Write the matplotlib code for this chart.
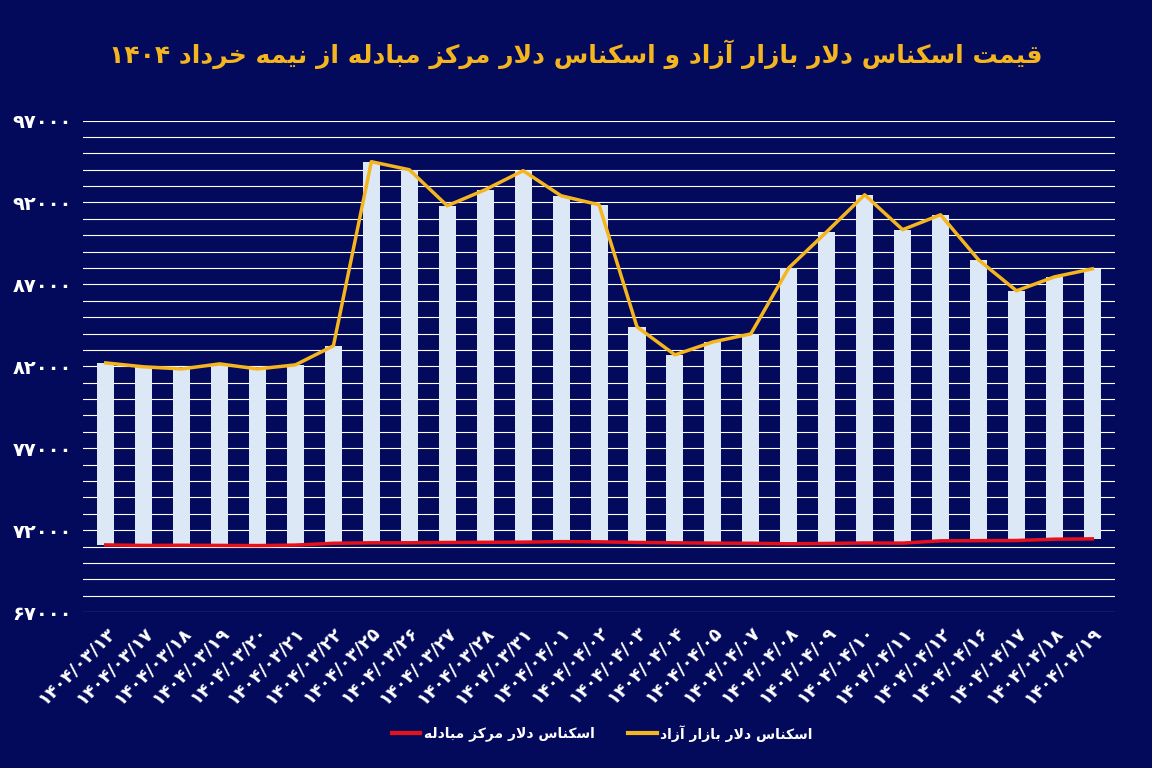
import matplotlib
matplotlib.use("Agg")
import matplotlib.pyplot as plt
import numpy as np

dates = ["۱۴۰۴/۰۳/۱۳","۱۴۰۴/۰۳/۱۷","۱۴۰۴/۰۳/۱۸","۱۴۰۴/۰۳/۱۹","۱۴۰۴/۰۳/۲۰","۱۴۰۴/۰۳/۲۱","۱۴۰۴/۰۳/۲۲",
         "۱۴۰۴/۰۳/۲۵","۱۴۰۴/۰۳/۲۶","۱۴۰۴/۰۳/۲۷","۱۴۰۴/۰۳/۲۸","۱۴۰۴/۰۳/۳۱","۱۴۰۴/۰۴/۰۱","۱۴۰۴/۰۴/۰۲",
         "۱۴۰۴/۰۴/۰۳","۱۴۰۴/۰۴/۰۴","۱۴۰۴/۰۴/۰۵","۱۴۰۴/۰۴/۰۷","۱۴۰۴/۰۴/۰۸","۱۴۰۴/۰۴/۰۹","۱۴۰۴/۰۴/۱۰",
         "۱۴۰۴/۰۴/۱۱","۱۴۰۴/۰۴/۱۲","۱۴۰۴/۰۴/۱۶","۱۴۰۴/۰۴/۱۷","۱۴۰۴/۰۴/۱۸","۱۴۰۴/۰۴/۱۹"]
free_market = [82210,81970,81840,82150,81840,82090,83250,94490,94000,91800,92780,93940,92410,91860,
               84410,82700,83490,83980,88010,90210,92470,90340,91250,88500,86610,87460,87950]
exchange_center = [71100,71070,71080,71070,71060,71090,71200,71230,71230,71250,71260,71270,71300,71290,
                   71250,71230,71210,71200,71170,71190,71220,71210,71350,71360,71370,71450,71470]
yticks = [67000,72000,77000,82000,87000,92000,97000]
title = "قیمت اسکناس دلار بازار آزاد و اسکناس دلار مرکز مبادله از نیمه خرداد ۱۴۰۴"
leg_free = "اسکناس دلار بازار آزاد"
leg_center = "اسکناس دلار مرکز مبادله"

FORMS = {
 'ا':(0xFE8D,0xFE8E,None,None),'آ':(0xFE81,0xFE82,None,None),
 'ب':(0xFE8F,0xFE90,0xFE91,0xFE92),'ت':(0xFE95,0xFE96,0xFE97,0xFE98),
 'خ':(0xFEA5,0xFEA6,0xFEA7,0xFEA8),'د':(0xFEA9,0xFEAA,None,None),
 'ر':(0xFEAD,0xFEAE,None,None),'ز':(0xFEAF,0xFEB0,None,None),
 'س':(0xFEB1,0xFEB2,0xFEB3,0xFEB4),'ف':(0xFED1,0xFED2,0xFED3,0xFED4),
 'ق':(0xFED5,0xFED6,0xFED7,0xFED8),'ک':(0xFB8E,0xFB8F,0xFB90,0xFB91),
 'ل':(0xFEDD,0xFEDE,0xFEDF,0xFEE0),'م':(0xFEE1,0xFEE2,0xFEE3,0xFEE4),
 'ن':(0xFEE5,0xFEE6,0xFEE7,0xFEE8),'ه':(0xFEE9,0xFEEA,0xFEEB,0xFEEC),
 'و':(0xFEED,0xFEEE,None,None),'ی':(0xFBFC,0xFBFD,0xFBFE,0xFBFF),
}
def shape(s):
    out = []
    n = len(s)
    i = 0
    while i < n:
        c = s[i]
        if c not in FORMS:
            out.append(c); i += 1; continue
        prev = s[i-1] if i > 0 else ''
        jp = prev in FORMS and FORMS[prev][2] is not None
        if c == 'ل' and i+1 < n and s[i+1] == 'ا':
            out.append(chr(0xFEFC if jp else 0xFEFB)); i += 2; continue
        nxt = s[i+1] if i+1 < n else ''
        jn = FORMS[c][2] is not None and nxt in FORMS
        iso, fin, ini, med = FORMS[c]
        if jp and jn: ch = med
        elif jp: ch = fin
        elif jn: ch = ini
        else: ch = iso
        out.append(chr(ch)); i += 1
    r = ''.join(out)[::-1]
    res, buf = [], []
    for ch in r:
        if '۰' <= ch <= '۹':
            buf.append(ch)
        else:
            if buf: res.append(''.join(buf[::-1])); buf = []
            res.append(ch)
    if buf: res.append(''.join(buf[::-1]))
    return ''.join(res)

def fa(n):
    return str(n).translate(str.maketrans('0123456789','۰۱۲۳۴۵۶۷۸۹'))

bg = '#030a5c'
plt.rcParams['font.family'] = 'DejaVu Sans'
fig = plt.figure(figsize=(11.52,7.68), dpi=100, facecolor=bg)
ax = fig.add_axes([0.072,0.203,0.896,0.64])
ax.set_facecolor(bg)
x = np.arange(len(dates))
fm = np.array(free_market); ec = np.array(exchange_center)
ax.bar(x, fm-ec, bottom=ec, width=0.45, color='#dde8f6', zorder=2)
ax.plot(x, fm, color='#f5b51e', lw=2.5, zorder=3)
ax.plot(x, ec, color='#e8101a', lw=2.5, zorder=3)
ax.set_ylim(67000, 97000)
ax.set_xlim(-0.6, len(dates)-0.4)
for v in range(67000, 97001, 1000):
    ax.axhline(v, color='white', lw=0.8, zorder=1)
ax.set_yticks(yticks)
ax.set_yticklabels([fa(v) for v in yticks], color='white', fontsize=14, fontweight='bold')
ax.set_xticks(x)
ax.set_xticklabels(dates, rotation=45, ha='right', rotation_mode='anchor', color='white', fontsize=13, fontweight='bold')
ax.tick_params(length=0, pad=8)
for s in ax.spines.values(): s.set_visible(False)
fig.text(0.5, 0.93, shape(title), color='#f5b51e', fontsize=18, fontweight='bold', ha='center', va='center')
fig.lines.append(plt.Line2D([0.34,0.365],[0.045,0.045], color='#e8101a', lw=3, transform=fig.transFigure))
fig.text(0.368, 0.045, shape(leg_center), color='white', fontsize=10, fontweight='bold', va='center', ha='left')
fig.lines.append(plt.Line2D([0.545,0.57],[0.045,0.045], color='#f5b51e', lw=3, transform=fig.transFigure))
fig.text(0.573, 0.045, shape(leg_free), color='white', fontsize=10, fontweight='bold', va='center', ha='left')
fig.savefig('out.png', dpi=100, facecolor=bg)
